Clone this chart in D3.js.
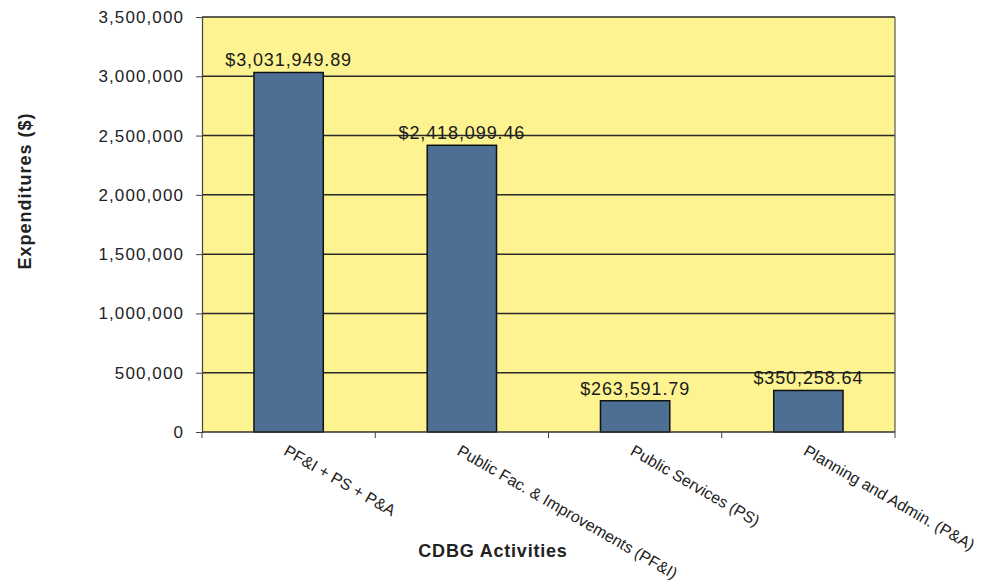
<!DOCTYPE html>
<html>
<head>
<meta charset="utf-8">
<title>CDBG Activities</title>
<style>
  body { margin: 0; background: #fff; }
  svg { display: block; font-family: "Liberation Sans", Arial, sans-serif; }
</style>
<script src="https://d3js.org/d3.v7.min.js"></script>
</head>
<body>
<svg width="985" height="588"></svg>
<script>
var categories = ["PF&I + PS + P&A", "Public Fac. & Improvements (PF&I)", "Public Services (PS)", "Planning and Admin. (P&A)"];
var values = [3031949.89, 2418099.46, 263591.79, 350258.64];
var yTicks = [0, 500000, 1000000, 1500000, 2000000, 2500000, 3000000, 3500000];

var svg = d3.select("svg"),
    margin = {top: 17, right: 90, bottom: 156, left: 202},
    width = +svg.attr("width") - margin.left - margin.right,
    height = +svg.attr("height") - margin.top - margin.bottom,
    g = svg.append("g").attr("transform", `translate(${margin.left},${margin.top})`);

var x = d3.scaleBand().domain(categories).range([0, width]).paddingInner(0.6).paddingOuter(0.3);
var y = d3.scaleLinear().domain([0, 3500000]).range([height, 0]);

// plot background
g.append("rect")
  .attr("width", width).attr("height", height)
  .attr("fill", "#fdf391");

// gridlines
g.append("g")
  .selectAll("line")
  .data(yTicks.slice(1))
  .join("line")
  .attr("x1", 0).attr("x2", width)
  .attr("y1", d => y(d)).attr("y2", d => y(d))
  .attr("stroke", "#2a2a2a").attr("stroke-width", 1.5);

// right border
g.append("line")
  .attr("x1", width).attr("x2", width).attr("y1", 0).attr("y2", height)
  .attr("stroke", "#555").attr("stroke-width", 1.2);

// bars
g.selectAll(".bar")
  .data(values)
  .join("rect")
  .attr("class", "bar")
  .attr("x", (d, i) => x(categories[i]))
  .attr("width", x.bandwidth())
  .attr("y", d => y(d))
  .attr("height", d => height - y(d))
  .attr("fill", "#4d6f93")
  .attr("stroke", "#111")
  .attr("stroke-width", 1.5);

// value labels
var fmt = d3.format(",.2f");
g.selectAll(".val")
  .data(values)
  .join("text")
  .attr("class", "val")
  .attr("x", (d, i) => x(categories[i]) + x.bandwidth() / 2)
  .attr("y", d => y(d) - 6)
  .attr("text-anchor", "middle")
  .attr("font-size", 18)
  .attr("letter-spacing", 0.9)
  .attr("fill", "#1a1a1a")
  .text(d => "$" + fmt(d));

// y axis
var yAxis = g.append("g")
  .call(d3.axisLeft(y).tickValues(yTicks).tickSize(6).tickPadding(12).tickFormat(d3.format(",")));
yAxis.select(".domain").attr("stroke", "#444").attr("stroke-width", 1.2);
yAxis.selectAll(".tick line").attr("stroke", "#444");
yAxis.selectAll("text")
  .attr("font-size", 17).attr("letter-spacing", 1.1).attr("fill", "#222")
  .style("font-family", "'Liberation Sans', Arial, sans-serif");

// x axis line and ticks at category boundaries
var step = width / categories.length;
var xAxis = g.append("g").attr("transform", `translate(0,${height})`);
xAxis.append("line")
  .attr("x1", 0).attr("x2", width)
  .attr("stroke", "#333").attr("stroke-width", 1.5);
xAxis.selectAll(".xt")
  .data(d3.range(categories.length + 1))
  .join("line")
  .attr("class", "xt")
  .attr("x1", d => d * step).attr("x2", d => d * step)
  .attr("y1", 0).attr("y2", 6)
  .attr("stroke", "#444");

// category labels, rotated
xAxis.selectAll(".xl")
  .data(categories)
  .join("text")
  .attr("class", "xl")
  .attr("transform", d => `translate(${x(d) + x.bandwidth() / 2},12) rotate(30)`)
  .attr("dy", "0.72em")
  .attr("font-size", 16)
  .attr("fill", "#222")
  .text(d => d);

// axis titles
svg.append("text")
  .attr("transform", `translate(31,191) rotate(-90)`)
  .attr("text-anchor", "middle")
  .attr("font-size", 18)
  .attr("font-weight", "bold")
  .attr("letter-spacing", 1)
  .attr("fill", "#222")
  .text("Expenditures ($)");

svg.append("text")
  .attr("x", 493).attr("y", 557)
  .attr("text-anchor", "middle")
  .attr("font-size", 18)
  .attr("font-weight", "bold")
  .attr("letter-spacing", 0.8)
  .attr("fill", "#222")
  .text("CDBG Activities");
</script>
</body>
</html>
